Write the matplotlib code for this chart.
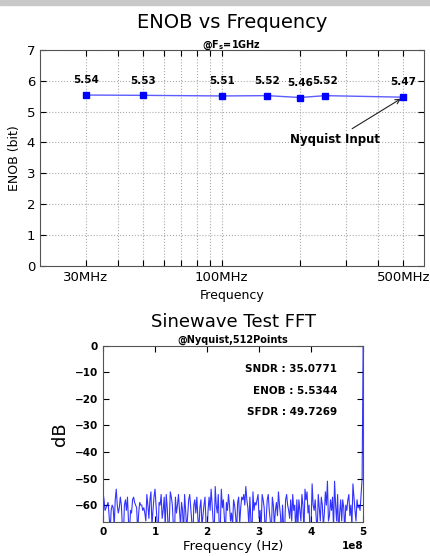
import numpy as np
import matplotlib
matplotlib.use('Agg')
import matplotlib.pyplot as plt
from matplotlib.patches import Rectangle

# ENOB sweep (frequency in MHz)
freqs_mhz = [30, 50, 100, 150, 200, 250, 500]
enob = [5.54, 5.53, 5.51, 5.52, 5.46, 5.52, 5.47]
xtick_vals = [30, 40, 50, 60, 70, 80, 90, 100, 200, 300, 400, 500]
xtick_labels = ['30MHz', '', '', '', '', '', '', '100MHz', '', '', '', '500MHz']

# FFT magnitude (dB), 256 bins, last bin is the input tone
fft_db = [
    -55, -58, -62, -61, -60, -59, -64, -70, -62, -60, -61, -68, -58, -54, -60, -63,
    -61, -57, -60, -68, -72, -60, -58, -62, -57, -66, -70, -62, -63, -58, -57, -59,
    -60, -61, -70, -63, -59, -60, -60, -62, -61, -63, -66, -56, -60, -65, -58, -55,
    -68, -62, -57, -54, -60, -66, -71, -59, -60, -56, -65, -62, -57, -68, -56, -61,
    -70, -66, -55, -57, -60, -68, -73, -57, -63, -60, -56, -62, -68, -59, -62, -71,
    -56, -62, -69, -64, -58, -56, -61, -66, -74, -60, -58, -63, -57, -65, -69, -61,
    -58, -68, -64, -60, -57, -67, -70, -62, -57, -62, -54, -60, -66, -71, -53, -60,
    -63, -56, -69, -68, -54, -61, -58, -65, -70, -59, -62, -56, -60, -66, -63, -68,
    -58, -60, -64, -70, -59, -57, -67, -61, -57, -58, -56, -60, -53, -58, -61, -68,
    -57, -66, -72, -55, -62, -59, -60, -58, -56, -65, -62, -69, -56, -58, -61, -70,
    -65, -58, -56, -62, -66, -71, -57, -60, -68, -62, -59, -64, -55, -60, -64, -72,
    -60, -68, -70, -58, -56, -60, -62, -65, -58, -66, -56, -62, -60, -71, -58, -68,
    -58, -62, -66, -56, -60, -70, -54, -58, -55, -63, -60, -72, -67, -52, -60, -62,
    -58, -65, -70, -56, -61, -66, -57, -60, -68, -63, -55, -60, -51, -66, -64, -58,
    -62, -57, -69, -51, -60, -66, -56, -72, -63, -58, -66, -58, -61, -70, -60, -62,
    -58, -56, -64, -60, -68, -52, -57, -62, -66, -58, -61, -60, -62, -56, -50, 0,
]
fft_freq = np.linspace(0, 5e8, len(fft_db))

sndr = 35.0771
enob_fft = 5.5344
sfdr = 49.7269

fig = plt.figure(figsize=(4.3, 5.56), dpi=100)
fig.patches.append(Rectangle((0, 0.991), 1, 0.009, transform=fig.transFigure,
                             color='#c8c8c8', zorder=0))

# ---- top: ENOB vs frequency
ax1 = fig.add_axes([0.093, 0.522, 0.893, 0.388])
ax1.plot(freqs_mhz, enob, '-', color='#5c5cff', lw=1, zorder=3)
ax1.plot(freqs_mhz, enob, 's', color='b', ms=4.5, mec='b', zorder=4)
ax1.set_xscale('log')
ax1.set_xlim(20, 600)
ax1.set_ylim(0, 7)
ax1.set_xticks(xtick_vals)
ax1.set_xticklabels(xtick_labels, fontsize=9.5)
ax1.minorticks_off()
ax1.set_yticks(range(8))
ax1.tick_params(labelsize=9.5, direction='in', top=True, right=True, length=4)
ax1.grid(True, ls=':', color='#aaaaaa', lw=0.8)
for s in ax1.spines.values():
    s.set_color('#555555')
ax1.set_xlabel('Frequency', fontsize=9)
ax1.set_ylabel('ENOB (bit)', fontsize=9)
for f, v in zip(freqs_mhz, enob):
    ax1.annotate('%.2f' % v, (f, v), xytext=(0, 7), textcoords='offset points',
                 ha='center', va='bottom', fontsize=7.5, fontweight='bold')
ax1.annotate('Nyquist Input', xy=(freqs_mhz[-1], enob[-1]), xytext=(272, 4.1),
             ha='center', va='center', fontsize=8.5, fontweight='bold',
             arrowprops=dict(arrowstyle='->', color='#222222', lw=0.8))
ax1.set_title(r'@$\mathbf{F_s}$=1GHz', fontsize=7, fontweight='bold', pad=2)
ax1.text(0.5, 1.085, 'ENOB vs Frequency', transform=ax1.transAxes,
         ha='center', va='bottom', fontsize=14)

# ---- bottom: FFT
ax2 = fig.add_axes([0.2395, 0.061, 0.605, 0.317])
ax2.plot(fft_freq, fft_db, color='b', lw=0.8, alpha=0.8)
ax2.set_xlim(0, 5e8)
ax2.set_ylim(-66.4, 0)
ax2.set_yticks([0, -10, -20, -30, -40, -50, -60])
ax2.tick_params(labelsize=7.5, direction='in', top=True, right=True, length=4)
for s in ax2.spines.values():
    s.set_color('#555555')
for lab in ax2.get_xticklabels() + ax2.get_yticklabels():
    lab.set_fontweight('bold')
ax2.xaxis.get_offset_text().set_fontweight('bold')
ax2.xaxis.get_offset_text().set_fontsize(7.5)
ax2.set_xlabel('Frequency (Hz)', fontsize=9.5, labelpad=2)
ax2.set_ylabel('dB', fontsize=13)
ax2.text(0.9, 0.87, 'SNDR : %.4f' % sndr, transform=ax2.transAxes,
         ha='right', va='center', fontsize=7.5, fontweight='bold')
ax2.text(0.9, 0.745, 'ENOB : %.4f' % enob_fft, transform=ax2.transAxes,
         ha='right', va='center', fontsize=7.5, fontweight='bold')
ax2.text(0.9, 0.625, 'SFDR : %.4f' % sfdr, transform=ax2.transAxes,
         ha='right', va='center', fontsize=7.5, fontweight='bold')
ax2.set_title('@Nyquist,512Points', fontsize=7, fontweight='bold', pad=2)
ax2.text(0.5, 1.085, 'Sinewave Test FFT', transform=ax2.transAxes,
         ha='center', va='bottom', fontsize=13)

fig.savefig('out.png', dpi=100)
